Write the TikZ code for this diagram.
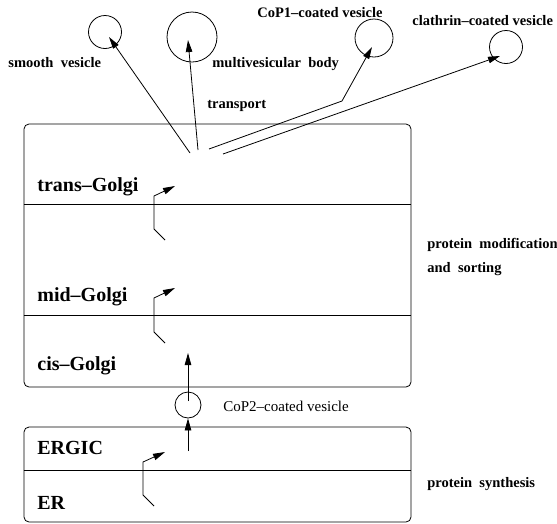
\documentclass[tikz,border=0pt]{standalone}
\usepackage{fontspec}
\setmainfont{Liberation Serif}
\usetikzlibrary{arrows.meta,positioning}

\begin{document}
\begin{tikzpicture}[x=1pt,y=-1pt,line width=0.8pt,>={Triangle[length=12pt,width=6.5pt]},
  lbl/.style={anchor=base west,inner sep=0pt,font=\bfseries\fontsize{14.5}{16}\selectfont},
  plain/.style={anchor=base west,inner sep=0pt,font=\fontsize{15}{17}\selectfont},
  big/.style={anchor=base west,inner sep=0pt,font=\bfseries\fontsize{20}{22}\selectfont},
  ves/.style={draw,circle,inner sep=0pt},
  compart/.style={draw,rounded corners=5pt,minimum width=387pt,inner sep=0pt}]
\useasboundingbox (0,0) rectangle (557,523);

\node[compart,minimum height=263pt](golgi) at (217.5,255.5){};
\node[compart,minimum height=95pt](er) at (217.5,474.5){};
\draw (golgi.west |- 0,204) -- (golgi.east |- 0,204);
\draw (golgi.west |- 0,315) -- (golgi.east |- 0,315);
\draw (er.west |- 0,470) -- (er.east |- 0,470);

\node[big](trans) at (37,191){trans--Golgi};
\node[big](mid) at (37,301){mid--Golgi};
\node[big](cis) at (37,370){cis--Golgi};
\node[big](ergic) at (37,454){ERGIC};
\node[big](erlbl) at (37,509){ER};

\node[ves,minimum size=33pt](smooth) at (105,32){};
\node[ves,minimum size=50pt](mvb) at (192,37){};
\node[ves,minimum size=38pt](cop1) at (374,38){};
\node[ves,minimum size=33pt](clath) at (506,47){};
\node[ves,minimum size=26pt](cop2) at (188,405){};

\node[lbl](smoothlbl) at (8,67){smooth\ \ vesicle};
\node[lbl](mvblbl) at (212,67){multivesicular\ \ body};
\node[lbl](transport) at (207,108){transport};
\node[lbl](cop1lbl) at (257,17){CoP1--coated vesicle};
\node[lbl](clathlbl) at (412,25){clathrin--coated vesicle};
\node[lbl](modif) at (427,248){protein\ \ modification};
\node[lbl](sorting) at (427,272){and\ \ sorting};
\node[lbl](synth) at (427,487){protein\ \ synthesis};
\node[plain](cop2lbl) at (223,411){CoP2--coated vesicle};

\coordinate (exsmooth) at (190,153);
\coordinate (exmvb) at (198,150);
\coordinate (excop1) at (209,149);
\coordinate (bend1) at (342,101);
\coordinate (exclath) at (223,154);
\draw[->] (exsmooth) -- ([xshift=4pt,yshift=-5pt]smooth.center);
\draw[->] (exmvb) -- ([xshift=-4pt,yshift=-3pt]mvb.center);
\draw[->] (excop1) -- (bend1) -- ([xshift=-2pt,yshift=-9pt]cop1.center);
\draw[->] (exclath) -- ([xshift=-6pt,yshift=-9pt]clath.center);

\coordinate (ergictop) at (188,451);
\coordinate (cisbot) at (188,353);
\draw[->] (ergictop) -- (cop2.south);
\draw[->] ([yshift=4pt]cop2.center) -- (cisbot);

\coordinate (c1) at (165,343);
\coordinate (c2) at (154,332);
\coordinate (c3) at (154,298);
\coordinate (c4) at (175,288);
\draw[->] (c1) -- (c2) -- (c3) -- (c4);
\coordinate (m1) at (165,240);
\coordinate (m2) at (154,229);
\coordinate (m3) at (154,196);
\coordinate (m4) at (175,186);
\draw[->] (m1) -- (m2) -- (m3) -- (m4);
\coordinate (e1) at (154,506);
\coordinate (e2) at (143,495);
\coordinate (e3) at (143,462);
\coordinate (e4) at (165,452);
\draw[->] (e1) -- (e2) -- (e3) -- (e4);
\end{tikzpicture}
\end{document}
